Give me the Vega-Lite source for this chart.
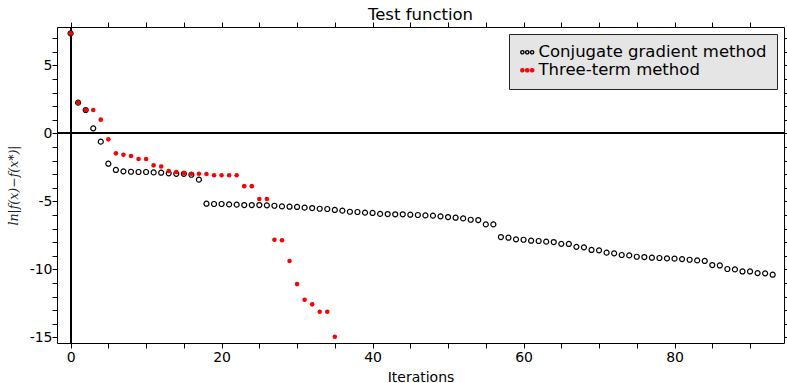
{
  "$schema": "https://vega.github.io/schema/vega-lite/v6.json",
  "autosize": "none",
  "width": 727,
  "height": 316,
  "padding": {"left": 57, "top": 27, "right": 3, "bottom": 40},
  "title": {"text": "Test function", "font": "DejaVu Sans", "fontSize": 16.5, "fontWeight": "normal", "color": "#000", "offset": -2},
  "config": {
    "view": {"stroke": "#000", "strokeWidth": 1},
    "axis": {"grid": false, "domain": false, "tickColor": "#000", "tickWidth": 1, "labelFont": "DejaVu Sans", "labelFontSize": 14, "labelColor": "#000", "titleFont": "DejaVu Sans", "titleFontSize": 14, "titleColor": "#000", "titleFontWeight": "normal"},
    "legend": {"orient": "top-right", "offset": 7, "fillColor": "#e5e5e5", "strokeColor": "#222", "padding": 10, "labelFont": "DejaVu Sans", "labelFontSize": 16.5, "labelColor": "#000", "labelLimit": 400, "labelOffset": 3, "rowPadding": 1, "symbolSize": 169, "symbolStrokeWidth": 1.4, "cornerRadius": 0,
      "symbolType": "M -1 0 a 0.25 0.25 0 1 0 0.5 0 a 0.25 0.25 0 1 0 -0.5 0 Z M -0.25 0 a 0.25 0.25 0 1 0 0.5 0 a 0.25 0.25 0 1 0 -0.5 0 Z M 0.5 0 a 0.25 0.25 0 1 0 0.5 0 a 0.25 0.25 0 1 0 -0.5 0 Z"}
  },
  "data": {"values": [
    {"it":0,"v":7.35,"m":"Conjugate gradient method"},
    {"it":1,"v":2.26,"m":"Conjugate gradient method"},
    {"it":2,"v":1.72,"m":"Conjugate gradient method"},
    {"it":3,"v":0.37,"m":"Conjugate gradient method"},
    {"it":4,"v":-0.61,"m":"Conjugate gradient method"},
    {"it":5,"v":-2.23,"m":"Conjugate gradient method"},
    {"it":6,"v":-2.69,"m":"Conjugate gradient method"},
    {"it":7,"v":-2.79,"m":"Conjugate gradient method"},
    {"it":8,"v":-2.82,"m":"Conjugate gradient method"},
    {"it":9,"v":-2.84,"m":"Conjugate gradient method"},
    {"it":10,"v":-2.84,"m":"Conjugate gradient method"},
    {"it":11,"v":-2.87,"m":"Conjugate gradient method"},
    {"it":12,"v":-2.89,"m":"Conjugate gradient method"},
    {"it":13,"v":-2.94,"m":"Conjugate gradient method"},
    {"it":14,"v":-2.97,"m":"Conjugate gradient method"},
    {"it":15,"v":-2.97,"m":"Conjugate gradient method"},
    {"it":16,"v":-3.04,"m":"Conjugate gradient method"},
    {"it":17,"v":-3.40,"m":"Conjugate gradient method"},
    {"it":18,"v":-5.17,"m":"Conjugate gradient method"},
    {"it":19,"v":-5.19,"m":"Conjugate gradient method"},
    {"it":20,"v":-5.19,"m":"Conjugate gradient method"},
    {"it":21,"v":-5.22,"m":"Conjugate gradient method"},
    {"it":22,"v":-5.24,"m":"Conjugate gradient method"},
    {"it":23,"v":-5.27,"m":"Conjugate gradient method"},
    {"it":24,"v":-5.27,"m":"Conjugate gradient method"},
    {"it":25,"v":-5.27,"m":"Conjugate gradient method"},
    {"it":26,"v":-5.29,"m":"Conjugate gradient method"},
    {"it":27,"v":-5.32,"m":"Conjugate gradient method"},
    {"it":28,"v":-5.37,"m":"Conjugate gradient method"},
    {"it":29,"v":-5.39,"m":"Conjugate gradient method"},
    {"it":30,"v":-5.41,"m":"Conjugate gradient method"},
    {"it":31,"v":-5.46,"m":"Conjugate gradient method"},
    {"it":32,"v":-5.49,"m":"Conjugate gradient method"},
    {"it":33,"v":-5.54,"m":"Conjugate gradient method"},
    {"it":34,"v":-5.56,"m":"Conjugate gradient method"},
    {"it":35,"v":-5.63,"m":"Conjugate gradient method"},
    {"it":36,"v":-5.68,"m":"Conjugate gradient method"},
    {"it":37,"v":-5.76,"m":"Conjugate gradient method"},
    {"it":38,"v":-5.78,"m":"Conjugate gradient method"},
    {"it":39,"v":-5.83,"m":"Conjugate gradient method"},
    {"it":40,"v":-5.85,"m":"Conjugate gradient method"},
    {"it":41,"v":-5.92,"m":"Conjugate gradient method"},
    {"it":42,"v":-5.93,"m":"Conjugate gradient method"},
    {"it":43,"v":-5.95,"m":"Conjugate gradient method"},
    {"it":44,"v":-5.95,"m":"Conjugate gradient method"},
    {"it":45,"v":-5.98,"m":"Conjugate gradient method"},
    {"it":46,"v":-6.00,"m":"Conjugate gradient method"},
    {"it":47,"v":-6.03,"m":"Conjugate gradient method"},
    {"it":48,"v":-6.05,"m":"Conjugate gradient method"},
    {"it":49,"v":-6.10,"m":"Conjugate gradient method"},
    {"it":50,"v":-6.15,"m":"Conjugate gradient method"},
    {"it":51,"v":-6.20,"m":"Conjugate gradient method"},
    {"it":52,"v":-6.25,"m":"Conjugate gradient method"},
    {"it":53,"v":-6.35,"m":"Conjugate gradient method"},
    {"it":54,"v":-6.37,"m":"Conjugate gradient method"},
    {"it":55,"v":-6.69,"m":"Conjugate gradient method"},
    {"it":56,"v":-6.69,"m":"Conjugate gradient method"},
    {"it":57,"v":-7.62,"m":"Conjugate gradient method"},
    {"it":58,"v":-7.67,"m":"Conjugate gradient method"},
    {"it":59,"v":-7.79,"m":"Conjugate gradient method"},
    {"it":60,"v":-7.82,"m":"Conjugate gradient method"},
    {"it":61,"v":-7.89,"m":"Conjugate gradient method"},
    {"it":62,"v":-7.91,"m":"Conjugate gradient method"},
    {"it":63,"v":-7.96,"m":"Conjugate gradient method"},
    {"it":64,"v":-7.99,"m":"Conjugate gradient method"},
    {"it":65,"v":-8.12,"m":"Conjugate gradient method"},
    {"it":66,"v":-8.13,"m":"Conjugate gradient method"},
    {"it":67,"v":-8.34,"m":"Conjugate gradient method"},
    {"it":68,"v":-8.38,"m":"Conjugate gradient method"},
    {"it":69,"v":-8.57,"m":"Conjugate gradient method"},
    {"it":70,"v":-8.60,"m":"Conjugate gradient method"},
    {"it":71,"v":-8.77,"m":"Conjugate gradient method"},
    {"it":72,"v":-8.82,"m":"Conjugate gradient method"},
    {"it":73,"v":-8.94,"m":"Conjugate gradient method"},
    {"it":74,"v":-8.97,"m":"Conjugate gradient method"},
    {"it":75,"v":-9.07,"m":"Conjugate gradient method"},
    {"it":76,"v":-9.09,"m":"Conjugate gradient method"},
    {"it":77,"v":-9.14,"m":"Conjugate gradient method"},
    {"it":78,"v":-9.16,"m":"Conjugate gradient method"},
    {"it":79,"v":-9.19,"m":"Conjugate gradient method"},
    {"it":80,"v":-9.21,"m":"Conjugate gradient method"},
    {"it":81,"v":-9.24,"m":"Conjugate gradient method"},
    {"it":82,"v":-9.29,"m":"Conjugate gradient method"},
    {"it":83,"v":-9.34,"m":"Conjugate gradient method"},
    {"it":84,"v":-9.38,"m":"Conjugate gradient method"},
    {"it":85,"v":-9.68,"m":"Conjugate gradient method"},
    {"it":86,"v":-9.71,"m":"Conjugate gradient method"},
    {"it":87,"v":-9.97,"m":"Conjugate gradient method"},
    {"it":88,"v":-10.00,"m":"Conjugate gradient method"},
    {"it":89,"v":-10.15,"m":"Conjugate gradient method"},
    {"it":90,"v":-10.15,"m":"Conjugate gradient method"},
    {"it":91,"v":-10.27,"m":"Conjugate gradient method"},
    {"it":92,"v":-10.29,"m":"Conjugate gradient method"},
    {"it":93,"v":-10.39,"m":"Conjugate gradient method"},
    {"it":0,"v":7.35,"m":"Three-term method"},
    {"it":1,"v":2.26,"m":"Three-term method"},
    {"it":2,"v":1.72,"m":"Three-term method"},
    {"it":3,"v":1.72,"m":"Three-term method"},
    {"it":4,"v":1.01,"m":"Three-term method"},
    {"it":5,"v":-0.44,"m":"Three-term method"},
    {"it":6,"v":-1.47,"m":"Three-term method"},
    {"it":7,"v":-1.57,"m":"Three-term method"},
    {"it":8,"v":-1.66,"m":"Three-term method"},
    {"it":9,"v":-1.88,"m":"Three-term method"},
    {"it":10,"v":-1.88,"m":"Three-term method"},
    {"it":11,"v":-2.35,"m":"Three-term method"},
    {"it":12,"v":-2.43,"m":"Three-term method"},
    {"it":13,"v":-2.77,"m":"Three-term method"},
    {"it":14,"v":-2.84,"m":"Three-term method"},
    {"it":15,"v":-2.92,"m":"Three-term method"},
    {"it":16,"v":-2.97,"m":"Three-term method"},
    {"it":17,"v":-2.97,"m":"Three-term method"},
    {"it":18,"v":-2.99,"m":"Three-term method"},
    {"it":19,"v":-3.08,"m":"Three-term method"},
    {"it":20,"v":-3.08,"m":"Three-term method"},
    {"it":21,"v":-3.08,"m":"Three-term method"},
    {"it":22,"v":-3.08,"m":"Three-term method"},
    {"it":23,"v":-3.88,"m":"Three-term method"},
    {"it":24,"v":-3.88,"m":"Three-term method"},
    {"it":25,"v":-4.83,"m":"Three-term method"},
    {"it":26,"v":-4.83,"m":"Three-term method"},
    {"it":27,"v":-7.82,"m":"Three-term method"},
    {"it":28,"v":-7.86,"m":"Three-term method"},
    {"it":29,"v":-9.38,"m":"Three-term method"},
    {"it":30,"v":-11.08,"m":"Three-term method"},
    {"it":31,"v":-12.23,"m":"Three-term method"},
    {"it":32,"v":-12.57,"m":"Three-term method"},
    {"it":33,"v":-13.11,"m":"Three-term method"},
    {"it":34,"v":-13.11,"m":"Three-term method"},
    {"it":35,"v":-14.95,"m":"Three-term method"}
  ]},
  "resolve": {"axis": {"x": "independent", "y": "independent"}},
  "layer": [
    {
      "mark": {"type": "rule", "color": "#000", "strokeWidth": 1},
      "encoding": {
        "x": {"datum": 0, "type": "quantitative", "scale": {"domain": [-1.8, 94.5], "nice": false, "zero": false},
          "axis": {"orient": "top", "title": null, "labels": false, "values": [0,5,10,15,20,25,30,35,40,45,50,55,60,65,70,75,80,85,90],
            "encode": {"ticks": {"update": {"y2": {"signal": "datum.value % 20 === 0 ? 5 : 3"}}}}}}
      }
    },
    {
      "mark": {"type": "rule", "color": "#000", "strokeWidth": 1},
      "encoding": {
        "y": {"datum": 0, "type": "quantitative", "scale": {"domain": [-15.41, 7.82], "nice": false, "zero": false},
          "axis": {"orient": "right", "title": null, "labels": false, "values": [-15,-14,-13,-12,-11,-10,-9,-8,-7,-6,-5,-4,-3,-2,-1,0,1,2,3,4,5,6,7],
            "encode": {"ticks": {"update": {"x2": {"signal": "datum.value % 5 === 0 ? -5 : -3"}}}}}}
      }
    },
    {
      "mark": {"type": "point", "opacity": 1},
      "encoding": {
        "x": {"field": "it", "type": "quantitative", "scale": {"domain": [-1.8, 94.5], "nice": false, "zero": false},
          "axis": {"orient": "bottom", "title": "Iterations", "titlePadding": 6, "labelPadding": 2, "values": [0,5,10,15,20,25,30,35,40,45,50,55,60,65,70,75,80,85,90],
            "labelExpr": "datum.value % 20 === 0 ? datum.label : ''",
            "encode": {"ticks": {"update": {"y2": {"signal": "datum.value % 20 === 0 ? -5 : -3"}}}}}},
        "y": {"field": "v", "type": "quantitative", "scale": {"domain": [-15.41, 7.82], "nice": false, "zero": false},
          "axis": {"orient": "left", "title": "ln|f(x)−f(x*)|", "titleFont": "DejaVu Serif", "titleFontStyle": "italic", "titleFontSize": 12.5, "titleColor": "#222", "titlePadding": 9, "labelPadding": 0,
            "values": [-15,-14,-13,-12,-11,-10,-9,-8,-7,-6,-5,-4,-3,-2,-1,0,1,2,3,4,5,6,7],
            "labelExpr": "datum.value % 5 === 0 ? (datum.value < 0 ? '-' + abs(datum.value) : '' + datum.value) : ''",
            "encode": {"ticks": {"update": {"x2": {"signal": "datum.value % 5 === 0 ? 5 : 3"}}}}}},
        "fill": {"field": "m", "type": "nominal", "scale": {"domain": ["Conjugate gradient method", "Three-term method"], "range": ["transparent", "#ff0000"]}, "legend": {"title": null}},
        "stroke": {"field": "m", "type": "nominal", "scale": {"domain": ["Conjugate gradient method", "Three-term method"], "range": ["#000000", "#ff0000"]}, "legend": {"title": null}},
        "strokeWidth": {"condition": {"test": "datum.m === 'Three-term method'", "value": 0}, "value": 1.2},
        "size": {"condition": {"test": "datum.m === 'Three-term method'", "value": 21}, "value": 25}
      }
    }
  ]
}
